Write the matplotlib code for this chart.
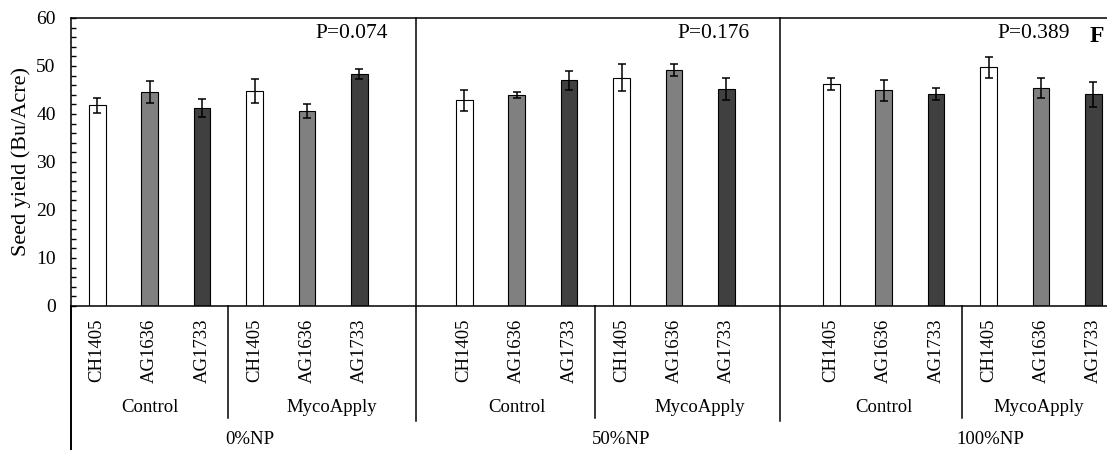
import numpy as np
import matplotlib
matplotlib.use("Agg")
import matplotlib.pyplot as plt
from matplotlib.ticker import MultipleLocator

# Seed yield by nitrogen/phosphorus rate, inoculant and variety
varieties = ["CH1405", "AG1636", "AG1733"]
inoculants = ["Control", "MycoApply"]
np_levels = ["0%NP", "50%NP", "100%NP"]
p_values = ["P=0.074", "P=0.176", "P=0.389"]

yield_mean = [41.8, 44.6, 41.25, 44.8, 40.6, 48.3,
              42.85, 43.95, 47.0, 47.6, 49.2, 45.2,
              46.2, 44.9, 44.1, 49.7, 45.4, 44.1]
yield_err = [1.6, 2.3, 1.85, 2.5, 1.4, 1.1,
             2.15, 0.55, 2.0, 2.9, 1.3, 2.35,
             1.2, 2.2, 1.25, 2.1, 2.1, 2.6]

variety_colors = ["#ffffff", "#808080", "#404040"]

plt.rcParams["font.family"] = ["Liberation Serif", "DejaVu Serif"]

W, H = 1107, 450
fig = plt.figure(figsize=(W / 100, H / 100), dpi=100)

# plot area in pixels: left 71, top 18, bottom 306, runs past the right edge
left_px, top_px, bot_px = 71, 18, 306
ax = fig.add_axes([left_px / W, (H - bot_px) / H, 1 - left_px / W, (bot_px - top_px) / H])

n_per_panel = len(varieties) * len(inoculants)
idx = np.arange(len(yield_mean))
xpos = idx + idx // n_per_panel          # one empty slot between NP panels
colors = [variety_colors[i % len(varieties)] for i in idx]

ax.bar(xpos, yield_mean, width=0.32, color=colors, edgecolor="black", linewidth=0.8, zorder=2)
ax.errorbar(xpos, yield_mean, yerr=yield_err, fmt="none", ecolor="black",
            elinewidth=1.1, capsize=3, capthick=1.1, zorder=3)

ax.set_xlim(-0.5, 19.26)
ax.set_ylim(0, 60)
ax.yaxis.set_major_locator(MultipleLocator(10))
ax.yaxis.set_minor_locator(MultipleLocator(2))
ax.tick_params(axis="y", which="both", direction="in", length=3.5, width=1.0, labelsize=14, pad=11)
ax.set_ylabel("Seed yield (Bu/Acre)", fontsize=16, labelpad=4)

ax.set_xticks(xpos)
ax.set_xticklabels([varieties[i % len(varieties)] for i in idx], rotation=90, fontsize=13.5)
ax.tick_params(axis="x", length=0, pad=9)

for side in ("left", "top", "bottom"):
    ax.spines[side].set_linewidth(1.1)
ax.spines["right"].set_visible(False)

trans = ax.get_xaxis_transform()
ax_h = bot_px - top_px

def frac(y_px):
    return (bot_px - y_px) / ax_h

# left axis continues down through the category table
ax.plot([-0.5, -0.5], [0, frac(H + 2)], transform=trans, color="black", lw=1.4, clip_on=False)

# panel separators (full height) and inoculant separators (below axis)
for xs in (6.08, 13.02):
    ax.plot([xs, xs], [1, frac(421)], transform=trans, color="black", lw=1.1, clip_on=False)
for xs in (2.5, 9.5, 16.5):
    ax.plot([xs, xs], [0, frac(418)], transform=trans, color="black", lw=1.1, clip_on=False)

# inoculant labels
inoc_x = [1, 4.48, 8, 11.5, 15, 17.96]
for k, xl in enumerate(inoc_x):
    ax.text(xl, frac(407), inoculants[k % 2], transform=trans, ha="center", va="center",
            fontsize=13.5, clip_on=False)

# NP level labels
np_x = [2.92, 9.99, 17.03]
for lab, xl in zip(np_levels, np_x):
    ax.text(xl, frac(440), lab, transform=trans, ha="center", va="center", fontsize=13.5, clip_on=False)

# P values per panel
p_x = [5.55, 12.45, 18.55]
for lab, xl in zip(p_values, p_x):
    ax.text(xl, frac(33), lab, transform=trans, ha="right", va="center", fontsize=15.5)

fig.text(1104 / W, 1 - 36 / H, "F", fontsize=17, fontweight="bold", ha="right", va="center")

fig.savefig("out.png", dpi=100)
